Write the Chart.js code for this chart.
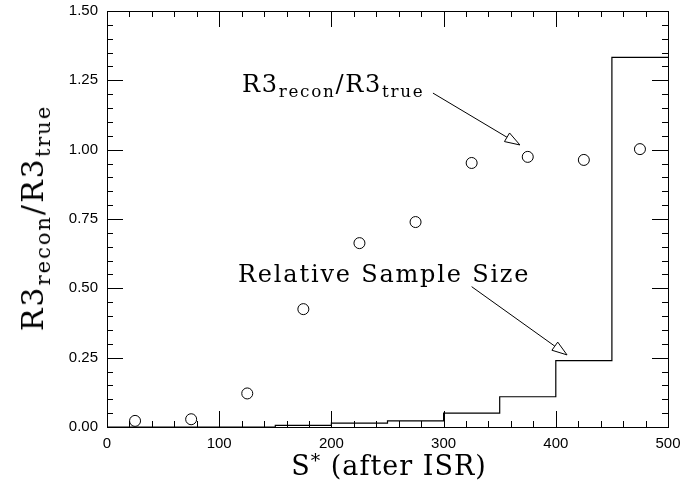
<!DOCTYPE html>
<html>
<head>
<meta charset="utf-8">
<script src="https://cdn.jsdelivr.net/npm/chart.js@4.4.1/dist/chart.umd.min.js"></script>
<style>
  html, body { margin: 0; padding: 0; background: #fff; }
  #wrap { position: relative; width: 681px; height: 485px; overflow: hidden; }
  #c { position: absolute; left: 0; top: 0; }
  .lbl { position: absolute; font-family: "DejaVu Serif", serif; color: #000; white-space: nowrap; line-height: 1; }
  .lbl sub { font-size: 70%; vertical-align: baseline; position: relative; top: 0.32em; }
  .lbl sup { font-size: 70%; vertical-align: baseline; position: relative; top: -0.45em; }
</style>
</head>
<body>
<div id="wrap">
  <canvas id="c" width="681" height="485"></canvas>
  <div class="lbl" id="yTitle">R3<sub>recon</sub>/R3<sub>true</sub></div>
  <div class="lbl" id="xTitle">S<sup>*</sup> (after ISR)</div>
  <div class="lbl" id="noteRatio">R3<sub>recon</sub>/R3<sub>true</sub></div>
  <div class="lbl" id="noteSize">Relative Sample Size</div>
</div>
<script>
/* ---------- data ---------- */
// histogram: relative sample size per S* bin (lower bin edges, last edge = 500)
const binLow = [0, 50, 100, 150, 200, 250, 300, 350, 400, 450];
const binTop = 500;
const sampleSize = [0, 0, 0, 0.006, 0.014, 0.022, 0.050, 0.109, 0.239, 1.333];

// open circles: R3 recon / R3 true at bin centres
const sCentre = [25, 75, 125, 175, 225, 275, 325, 375, 425, 475];
const r3Ratio = [0.022, 0.028, 0.121, 0.425, 0.663, 0.739, 0.952, 0.974, 0.963, 1.002];

// axes
const xTickVals = [0, 100, 200, 300, 400, 500];
const yTickVals = [0, 0.25, 0.5, 0.75, 1.0, 1.25, 1.5];

// annotation arrows, [x0, y0, x1, y1] in data units (tail -> head)
const arrowRatio = [290.5, 1.204, 368, 1.017];
const arrowSize = [325, 0.506, 410, 0.26];

/* ---------- build the tables Chart.js wants ---------- */
const histPts = binLow.map((x, i) => ({ x: x, y: sampleSize[i] }));
histPts.push({ x: binTop, y: sampleSize[sampleSize.length - 1] });

const ratioPts = sCentre.map((x, i) => ({ x: x, y: r3Ratio[i] }));

/* frame, inward ticks on all four sides, arrows */
const frameAndTicks = {
  id: 'frameAndTicks',
  afterDatasetsDraw(chart) {
    const { ctx, chartArea: a, scales: { x, y } } = chart;
    ctx.save();
    ctx.strokeStyle = '#000';
    ctx.lineWidth = 1;
    ctx.beginPath();
    // x ticks every 20, major every 100
    for (let v = 0; v <= 500; v += 20) {
      const px = Math.round(x.getPixelForValue(v)) + 0.5;
      const len = v % 100 === 0 ? 16 : 6;
      ctx.moveTo(px, a.bottom); ctx.lineTo(px, a.bottom - len);
      ctx.moveTo(px, a.top); ctx.lineTo(px, a.top + len);
    }
    // y ticks every 0.05, major every 0.25
    for (let k = 0; k <= 30; k++) {
      const v = k * 0.05;
      const py = Math.round(y.getPixelForValue(v)) + 0.5;
      const len = k % 5 === 0 ? 16 : 6;
      ctx.moveTo(a.left, py); ctx.lineTo(a.left + len, py);
      ctx.moveTo(a.right, py); ctx.lineTo(a.right - len, py);
    }
    ctx.stroke();
    ctx.strokeRect(Math.round(a.left) + 0.5, Math.round(a.top) + 0.5,
                   Math.round(a.right - a.left), Math.round(a.bottom - a.top));

    // arrows with open heads
    [arrowRatio, arrowSize].forEach(ar => {
      const x0 = x.getPixelForValue(ar[0]), y0 = y.getPixelForValue(ar[1]);
      const x1 = x.getPixelForValue(ar[2]), y1 = y.getPixelForValue(ar[3]);
      const ang = Math.atan2(y1 - y0, x1 - x0);
      const hl = 15, hw = 5;
      const bx = x1 - hl * Math.cos(ang), by = y1 - hl * Math.sin(ang);
      ctx.beginPath();
      ctx.moveTo(x0, y0); ctx.lineTo(bx, by);
      ctx.stroke();
      ctx.beginPath();
      ctx.moveTo(x1, y1);
      ctx.lineTo(bx + hw * Math.sin(ang), by - hw * Math.cos(ang));
      ctx.lineTo(bx - hw * Math.sin(ang), by + hw * Math.cos(ang));
      ctx.closePath();
      ctx.fillStyle = '#fff';
      ctx.fill();
      ctx.stroke();
    });
    ctx.restore();
  }
};

const tickFont = { family: '"Liberation Sans", Arial, sans-serif', size: 15 };

new Chart(document.getElementById('c'), {
  type: 'scatter',
  data: {
    datasets: [
      {
        label: 'R3 recon / R3 true',
        data: ratioPts,
        pointStyle: 'circle',
        pointRadius: 5.5,
        pointHoverRadius: 5.5,
        pointBackgroundColor: '#fff',
        pointBorderColor: '#000',
        pointBorderWidth: 1
      },
      {
        type: 'line',
        label: 'Relative Sample Size',
        data: histPts,
        stepped: true,
        showLine: true,
        fill: false,
        borderColor: '#000',
        borderWidth: 1.2,
        pointRadius: 0
      }
    ]
  },
  options: {
    responsive: false,
    animation: false,
    events: [],
    layout: { padding: { left: 0, right: 13, top: 11, bottom: 0 } },
    plugins: { legend: { display: false }, tooltip: { enabled: false } },
    scales: {
      x: {
        type: 'linear', min: 0, max: 500,
        grid: { display: false, drawTicks: false },
        border: { display: false },
        afterBuildTicks: s => { s.ticks = xTickVals.map(v => ({ value: v })); },
        ticks: { font: tickFont, color: '#000', padding: 8, maxRotation: 0, autoSkip: false },
        afterFit: s => { s.height = 58; s.paddingLeft = 0; s.paddingRight = 0; }
      },
      y: {
        type: 'linear', min: 0, max: 1.5,
        grid: { display: false, drawTicks: false },
        border: { display: false },
        afterBuildTicks: s => { s.ticks = yTickVals.map(v => ({ value: v })); },
        ticks: { font: tickFont, color: '#000', padding: 9, callback: v => Number(v).toFixed(2) },
        afterFit: s => { s.width = 107; s.paddingTop = 0; s.paddingBottom = 0; }
      }
    }
  },
  plugins: [frameAndTicks]
});

/* text placement */
function place(id, css) {
  const el = document.getElementById(id);
  Object.assign(el.style, css);
}
place('yTitle', { fontSize: '30px', letterSpacing: '2px', left: '33px', top: '218px',
                  transform: 'translate(-50%, -50%) rotate(-90deg)' });
place('xTitle', { fontSize: '27px', letterSpacing: '1px', left: '389px', top: '452px',
                  transform: 'translateX(-50%)' });
place('noteRatio', { fontSize: '24px', letterSpacing: '1.7px', left: '242px', top: '72px' });
place('noteSize', { fontSize: '24px', letterSpacing: '1.8px', left: '238px', top: '262px' });
</script>
</body>
</html>
